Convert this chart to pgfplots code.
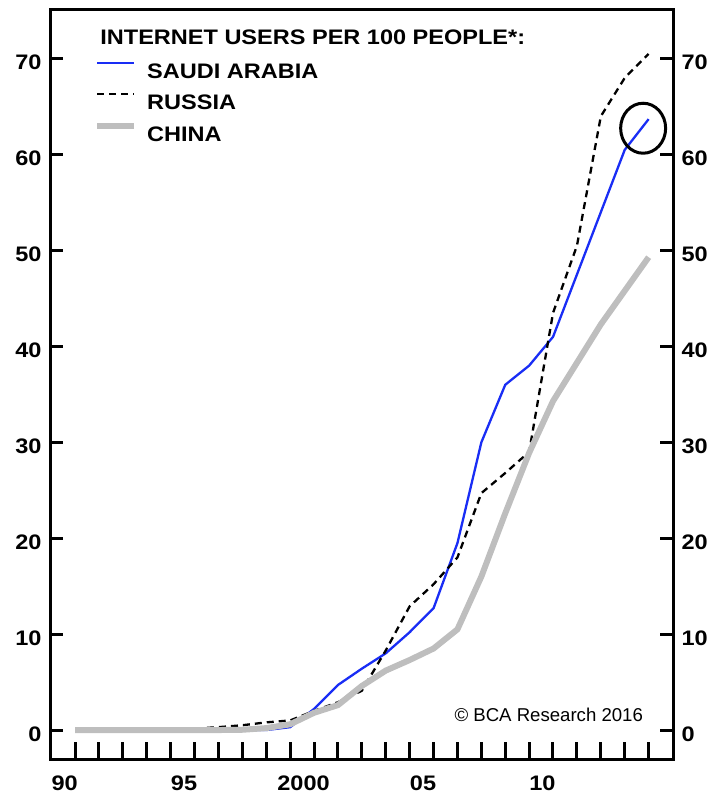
\documentclass[border=0pt]{standalone}
\usepackage{fontspec}
\setmainfont{Liberation Sans}
\newfontfamily\widefont[FakeStretch=1.12]{Liberation Sans}
\usepackage{pgfplots}
\usepackage{pgfplotstable}
\pgfplotsset{compat=1.18}

\definecolor{saudiblue}{RGB}{25,45,245}
\definecolor{chinagray}{RGB}{190,190,190}
\newcommand{\lbl}{\widefont\fontsize{21bp}{24bp}\selectfont\bfseries}

% internet users per 100 people
\pgfplotstableread{
year saudi russia china
1990 0    0    0
1991 0    0    0
1992 0    0    0
1993 0    0    0
1994 0    0    0
1995 0    0.15 0
1996 0    0.3  0
1997 0    0.5  0.03
1998 0    0.8  0.2
1999 0.3  1.0  0.6
2000 2.2  2.0  1.8
2001 4.7  2.9  2.6
2002 6.4  4.1  4.6
2003 8.0  8.3  6.2
2004 10.2 12.9 7.3
2005 12.7 15.2 8.5
2006 19.5 18.0 10.5
2007 30.0 24.7 16.0
2008 36.0 26.8 22.6
2009 38.0 29.0 28.9
2010 41.0 43.5 34.3
2011 47.5 50.5 38.3
2012 54.0 64.0 42.3
2013 60.5 68.0 45.8
2014 63.7 70.5 49.3
}\datatable

\pgfplotsset{
  common/.style={scale only axis, width=623bp, height=749bp,
    xmin=1988.95, xmax=2015.02, ymin=-3.02, ymax=75.08,
    axis line style={-, line width=3bp},
    tick style={line width=3bp, black},
    /pgf/number format/assume math mode=true},
}

\begin{document}
\begin{tikzpicture}
\begin{axis}[common, name=main,
  ytick=\empty,
  xtick={1990,...,2014},
  xticklabels={90,,,,,95,,,,,2000,,,,,05,,,,,10,,,,},
  xtick pos=bottom, xtick align=inside,
  major tick length=17bp,
  xticklabel style={font=\lbl, xshift=-10.5bp, yshift=-13bp},
  legend style={draw=none, fill=none, inner sep=0pt,
    at={(rel axis cs:0.0706,0.9306)}, anchor=north west,
    font=\lbl, /tikz/row sep=14bp, /tikz/column sep=10bp,
    nodes={inner sep=0pt, text height=15bp, text depth=0pt}},
  legend cell align=left,
  legend image code/.code={\draw[#1] (0bp,8bp) -- (37bp,8bp);},
]
\addplot[saudiblue, line width=2.3bp] table[x=year, y=saudi]{\datatable};
\addlegendentry{SAUDI ARABIA}
\addplot[black, line width=2.3bp, dash pattern=on 7bp off 5bp] table[x=year, y=russia]{\datatable};
\addlegendentry{RUSSIA}
\addplot[chinagray, line width=6bp] table[x=year, y=china]{\datatable};
\addlegendentry{CHINA}

\node[anchor=base west, inner sep=0pt, font=\lbl] at (axis cs:1991.05,71.43) {INTERNET USERS PER 100 PEOPLE*:};
\draw[line width=3bp] (axis cs:2013.77,62.75) ellipse [x radius=22.5bp, y radius=25bp];
\node[anchor=east, inner sep=0pt, font=\fontsize{18.6bp}{21bp}\selectfont] at (axis cs:2013.77,1.56) {\textcopyright{} BCA Research 2016};
\end{axis}

\begin{axis}[common,
  axis x line=none, axis y line*=left,
  ytick={0,10,...,70}, ytick align=inside, major tick length=13bp,
  yticklabel style={font=\lbl, xshift=-5bp, yshift=-4bp}]
\end{axis}

\begin{axis}[common,
  axis x line=none, axis y line*=right,
  ytick={0,10,...,70}, ytick align=inside, major tick length=13bp,
  yticklabel style={font=\lbl, xshift=5bp, yshift=-4bp}]
\end{axis}

\path ([xshift=-50bp,yshift=-35bp]main.south west) rectangle ([xshift=40bp,yshift=10bp]main.north east);
\end{tikzpicture}
\end{document}
